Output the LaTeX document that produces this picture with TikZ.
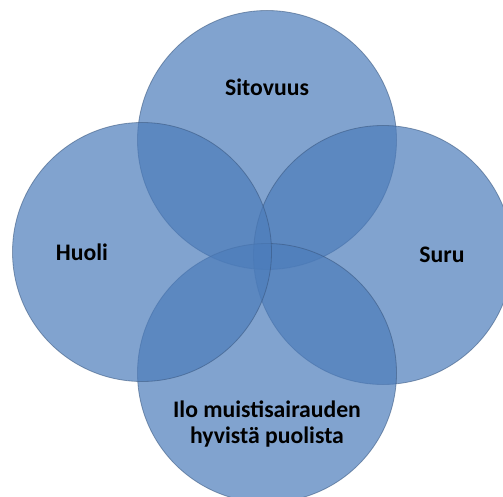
\documentclass[tikz,border=0pt]{standalone}
\usepackage{fontspec}
\setmainfont{Carlito}
\usetikzlibrary{positioning}
\definecolor{vennblue}{RGB}{76,124,186}
\definecolor{vennedge}{RGB}{55,85,125}
\tikzset{
  venn/.style={circle,minimum size=259pt,inner sep=0pt,fill=vennblue,fill opacity=0.7,
    draw=vennedge,draw opacity=0.55,line width=0.8pt},
  venntext/.style={font=\fontsize{23.7}{26}\selectfont\bfseries,align=center,text=black}
}

\begin{document}
\begin{tikzpicture}[x=1pt,y=-1pt]
\clip (0,0) rectangle (503,497);
\node[venn] (sitovuus) at (267,140) {};
\node[venn] (suru) at (383,255) {};
\node[venn] (ilo) at (267,373) {};
\node[venn] (huoli) at (142,252) {};
\node[venntext] (tsitovuus) at (267,87) {Sitovuus};
\node[venntext] (tsuru) at (442,255) {Suru};
\node[venntext] (tilo) at (267,424) {Ilo muistisairauden\\hyvistä puolista};
\node[venntext] (thuoli) at (82,252) {Huoli};
\end{tikzpicture}
\end{document}
